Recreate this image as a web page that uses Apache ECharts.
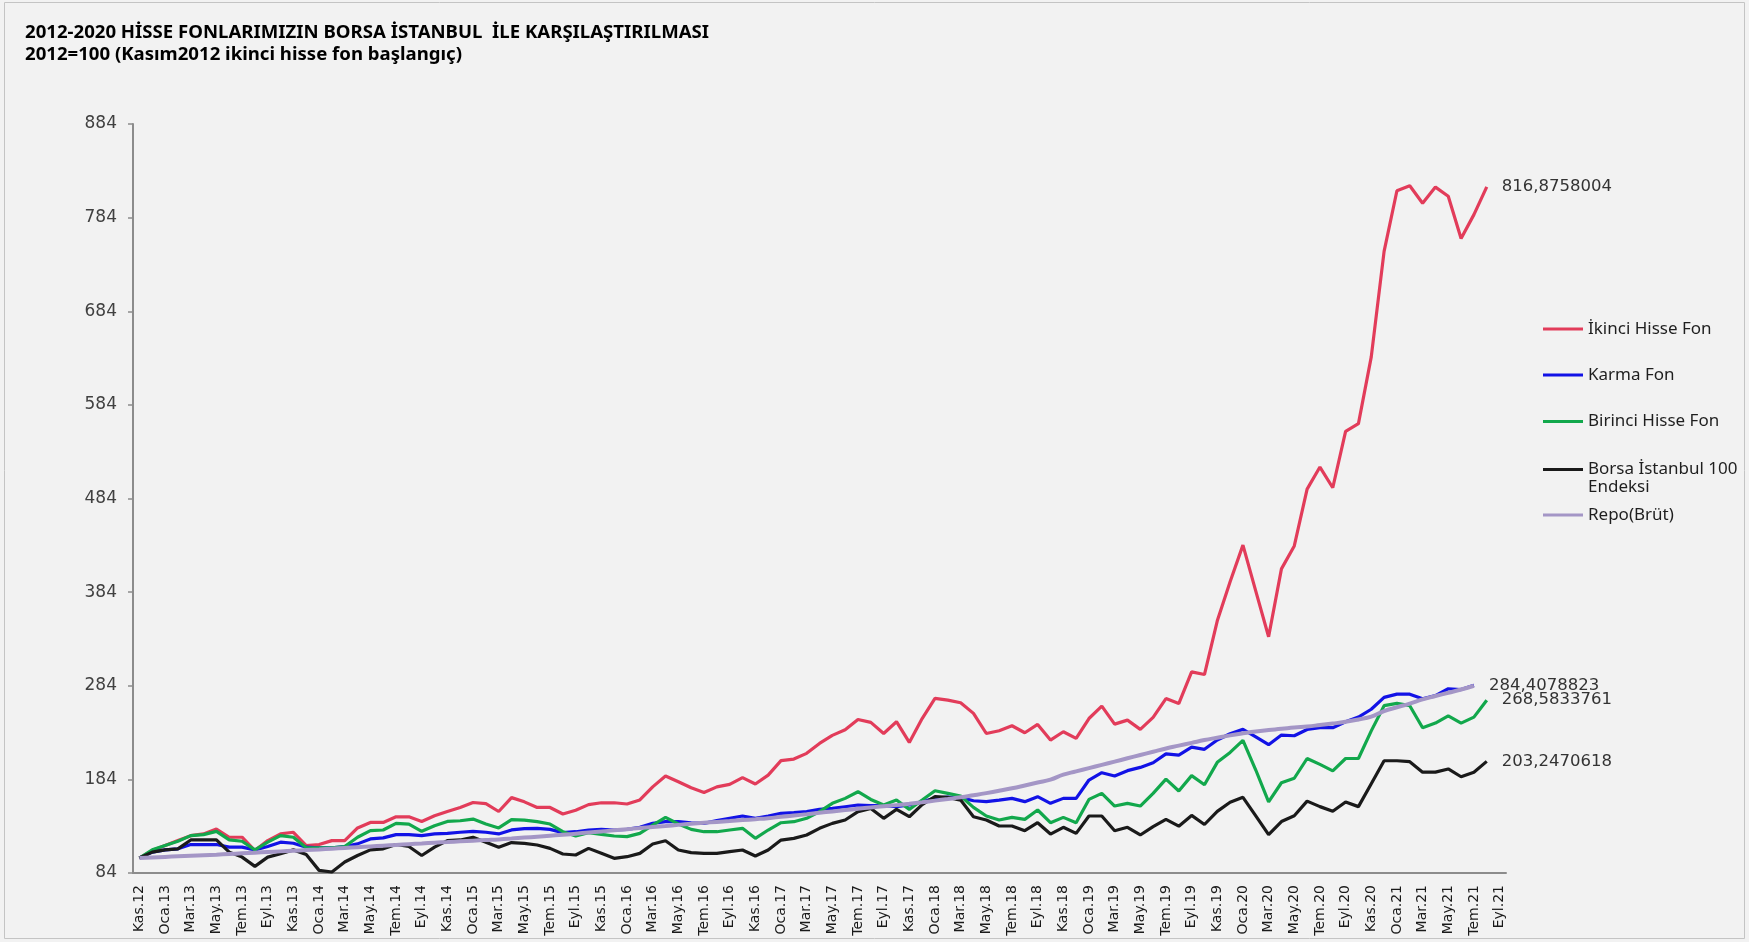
<!DOCTYPE html>
<html>
<head>
<meta charset="utf-8">
<script src="https://cdn.jsdelivr.net/npm/echarts@6/dist/echarts.min.js"></script>
<style>
  html, body { margin: 0; padding: 0; background: #f2f2f2; }
  #main { width: 1749px; height: 942px; }
</style>
</head>
<body>
<div id="main"></div>
<script>
// aylar: Kas.12 .. Eyl.21
var ayAdlari = ['Oca', 'Şub', 'Mar', 'Nis', 'May', 'Haz', 'Tem', 'Ağu', 'Eyl', 'Eki', 'Kas', 'Ara'];
var aylar = [];
for (let y = 2012, m = 10; y * 12 + m <= 2021 * 12 + 8; m++) {
  if (m == 12) { m = 0; y++; }
  aylar.push(ayAdlari[m] + '.' + String(y).slice(2));
}

var yTicks = [84, 184, 284, 384, 484, 584, 684, 784, 884];

var seriNames = ['İkinci Hisse Fon', 'Karma Fon', 'Birinci Hisse Fon', 'Borsa İstanbul 100 Endeksi', 'Repo(Brüt)'];

var ikinciHisse = [100, 108, 113.3, 118.6, 123.9, 125.7, 131, 122.2, 122.2, 108,
  118.6, 125.7, 127.5, 113.3, 114.4, 118.6, 118.6, 132.1, 138, 138,
  144, 144, 139.1, 145.1, 149.7, 154, 159.3, 158.2, 149.7, 164.5,
  160, 154, 154, 147, 151, 157, 159, 159, 157.7, 162,
  176, 187.6, 181.5, 175, 170, 176, 178.7, 185.8, 179, 188.6,
  204, 205.7, 211.8, 222.4, 231, 237, 248, 244.9, 233, 245.6,
  223.5, 249, 270.5, 268.7, 265.9, 254.5, 233, 236, 241.3, 233.8,
  242.7, 226, 234.9, 227.8, 249, 262.3, 243, 247.3, 237.4, 250.2,
  270.3, 265, 298.8, 296, 353.4, 395, 434.2, 385, 336.3, 408.8,
  433.3, 494, 517.6, 495.5, 555.8, 564, 635.3, 748, 812.7, 818,
  799.4, 816.6, 806.8, 761.7, 787.2, 816.8758004];

var karma = [100, 106.3, 108.7, 109.8, 114.4, 114.4, 114.4, 111.6, 111.6, 108.7,
  112.3, 116.9, 115.8, 111.6, 110.9, 110.9, 112.3, 115.1, 120.4, 121.5,
  125, 125, 123.9, 125.7, 126.4, 127.5, 128.5, 127.5, 125.7, 130,
  131.3, 131.7, 130.6, 127.1, 128.1, 129.9, 130.6, 129.9, 130.6, 132.8,
  137, 138.8, 138.8, 137.7, 137, 139.9, 142.4, 144.9, 142.4, 144.9,
  147.7, 148.4, 149.5, 152, 153, 154.8, 156.6, 155.9, 155.9, 154.8,
  156.6, 160, 164, 165, 164.5, 161.2, 160.2, 161.9, 163.7, 160.2,
  165.5, 158.4, 163.7, 163.7, 183.3, 191.1, 187.6, 193.3, 196.8, 201.8,
  211.2, 210, 218.4, 216.1, 226, 232.7, 237.4, 229.5, 221, 231.3,
  230.6, 237.3, 239.2, 239.2, 245.6, 250.5, 258.9, 271.6, 275, 275,
  270, 273.5, 280.8, 279.9, 284.4078823];

var birinciHisse = [100, 108.7, 113.3, 117.9, 123.9, 125, 128.5, 119.3, 117.9, 108.7,
  116.9, 123.9, 122.2, 110.9, 110.9, 110.9, 112.3, 122.2, 129.2, 129.9,
  137, 136.3, 128.5, 134.5, 139.1, 139.8, 141.6, 136.3, 132.1, 141,
  140.5, 138.8, 136.3, 128.1, 123.5, 127.1, 125.3, 123.5, 122.8, 126.3,
  135.2, 143.4, 136.3, 130.6, 128.1, 128.1, 129.9, 131.7, 121, 129.9,
  137.7, 138.8, 142.4, 149.5, 158.4, 163.7, 170.8, 162.6, 156.6, 162,
  152, 161.9, 171.9, 169.1, 166.2, 154.1, 144.9, 140.6, 143.4, 141.3,
  151.3, 137.7, 143.4, 137.7, 162.6, 169.1, 155.5, 158.4, 155.5, 169.1,
  184.2, 171.6, 188, 178.3, 202.2, 212.8, 225.7, 194, 160, 180.4,
  185.2, 206.3, 200, 193.1, 206.3, 206.3, 235.8, 262.7, 265.2, 262.7,
  239.2, 244.1, 251.9, 244.1, 250.5, 268.5833761];

var bist100 = [100, 106.3, 108.7, 109.8, 119.3, 119.3, 119.3, 106.3, 101, 91.1,
  101, 104.5, 108.7, 103.8, 86.8, 85.1, 95.7, 102.7, 108.7, 109.8,
  114.4, 112.3, 102.7, 111.6, 118.6, 119.3, 122.2, 116.9, 111.6, 116.5,
  115.7, 113.9, 110.3, 104.3, 103.2, 110.3, 105, 99.7, 101.4, 105,
  115, 118.5, 108.6, 105.7, 105, 105, 106.8, 108.6, 102.1, 108.6,
  119.2, 121, 124.6, 131.7, 137, 140.6, 149.5, 153, 142.4, 152,
  144.1, 157, 165.5, 164.8, 161.9, 144.1, 140.6, 134.2, 134.2, 129.2,
  137.7, 125.6, 132.8, 126.3, 144.9, 144.9, 129.2, 132.8, 124.6, 133.5,
  141.2, 134, 145.5, 135.8, 149.8, 159.5, 164.8, 145, 125, 139,
  145.1, 160.8, 154.9, 150, 159.8, 154.9, 179.4, 203.9, 203.9, 202.9,
  191.7, 191.7, 195.1, 186.8, 191.7, 203.2470618];

var repo = [100, 100.6, 101.2, 101.8, 102.4, 103, 103.6, 104.3, 105, 105.7,
  106.4, 107.1, 107.8, 108.5, 109.2, 110, 110.8, 111.6, 112.4, 113.2,
  114, 114.8, 115.6, 116.4, 117.1, 117.8, 118.5, 119.2, 119.9, 120.8,
  121.8, 122.8, 123.8, 124.8, 126, 127.2, 128.4, 129.6, 130.8, 132,
  133.2, 134.3, 135.4, 136.5, 137.6, 138.6, 139.5, 140.5, 141.5, 142.6,
  144, 145.4, 146.8, 148.3, 149.8, 151.2, 152.6, 154, 155.3, 156.5,
  158, 159.6, 161.3, 163, 164.8, 167, 169.3, 171.8, 174.5, 177.5,
  180.6, 183.8, 189, 192.5, 196, 199.5, 203, 206.5, 210, 213.5,
  217, 220, 223, 226, 228.5, 231, 233.2, 235.2, 236.7, 238,
  239.5, 240.5, 242, 243.6, 245.5, 248, 251, 257, 261, 265,
  269.5, 273, 276.5, 280, 284];

var renkler = ['#e23c5a', '#1212e6', '#12a84c', '#1a1a1a', '#a496c6'];
var seriData = [ikinciHisse, karma, birinciHisse, bist100, repo];

var myChart = echarts.init(document.getElementById('main'));

// legend her kalem ayri, referanstaki gibi dikey konumlu
var legendTops = [319, 365, 411.6, 459.6, 505];
var legends = seriNames.map(function (n, k) {
  return {
    data: [n],
    orient: 'vertical',
    left: 1543,
    top: legendTops[k],
    padding: 0,
    icon: 'rect',
    itemWidth: 40,
    itemHeight: 3,
    selectedMode: false,
    formatter: function (name) { return name.replace(' Endeksi', ''); },
    textStyle: {
      fontFamily: 'Noto Sans',
      fontSize: 17,
      color: '#1f1f1f',
      lineHeight: 20
    }
  };
});

var series = seriNames.map(function (n, k) {
  return {
    name: n,
    type: 'line',
    data: seriData[k],
    color: renkler[k],
    showSymbol: false,
    smooth: k == 4,
    lineStyle: { width: k == 4 ? 4 : 3.2, color: renkler[k] },
    endLabel: {
      show: k < 4,
      distance: 15,
      fontFamily: 'DejaVu Sans',
      fontSize: 16.5,
      color: '#333',
      formatter: function (p) { return String(p.value).replace('.', ','); }
    }
  };
});

const option = {
  backgroundColor: '#f2f2f2',
  animation: false,
  title: {
    text: '2012-2020 HİSSE FONLARIMIZIN BORSA İSTANBUL  İLE KARŞILAŞTIRILMASI\n2012=100 (Kasım2012 ikinci hisse fon başlangıç)',
    left: 25,
    top: 22,
    padding: 0,
    textStyle: {
      fontFamily: 'Noto Sans',
      fontWeight: 'bold',
      fontSize: 18.6,
      lineHeight: 22,
      color: '#000'
    }
  },
  legend: legends,
  grid: { left: 133, right: 243, top: 124, bottom: 69 },
  xAxis: {
    type: 'category',
    data: aylar,
    boundaryGap: true,
    axisLine: { lineStyle: { color: '#8c8c8c', width: 2 } },
    axisTick: { interval: 1, length: 5, lineStyle: { color: '#8c8c8c', width: 1.5 } },
    axisLabel: {
      interval: 1,
      rotate: 90,
      margin: 12,
      fontFamily: 'DejaVu Sans',
      fontSize: 14,
      color: '#1a1a1a'
    },
    splitLine: { show: false }
  },
  yAxis: {
    type: 'value',
    min: 84,
    max: 884,
    axisLine: { show: true, lineStyle: { color: '#8c8c8c', width: 2 } },
    axisTick: { show: true, length: 5, customValues: yTicks, lineStyle: { color: '#8c8c8c', width: 1.5 } },
    axisLabel: {
      customValues: yTicks,
      margin: 16,
      fontFamily: 'DejaVu Sans',
      fontSize: 17,
      color: '#404040'
    },
    splitLine: { show: false }
  },
  graphic: [{
    type: 'rect',
    shape: { x: 4.5, y: 2.5, width: 1740, height: 936 },
    style: { fill: null, stroke: '#c4c4c4', lineWidth: 1 },
    silent: true
  }, {
    // legend'in ikinci satiri
    type: 'text',
    left: 1588,
    top: 478.5,
    style: { text: 'Endeksi', font: '17px "Noto Sans"', fill: '#1f1f1f' },
    silent: true
  }],
  series: series
};
myChart.setOption(option);
</script>
</body>
</html>
